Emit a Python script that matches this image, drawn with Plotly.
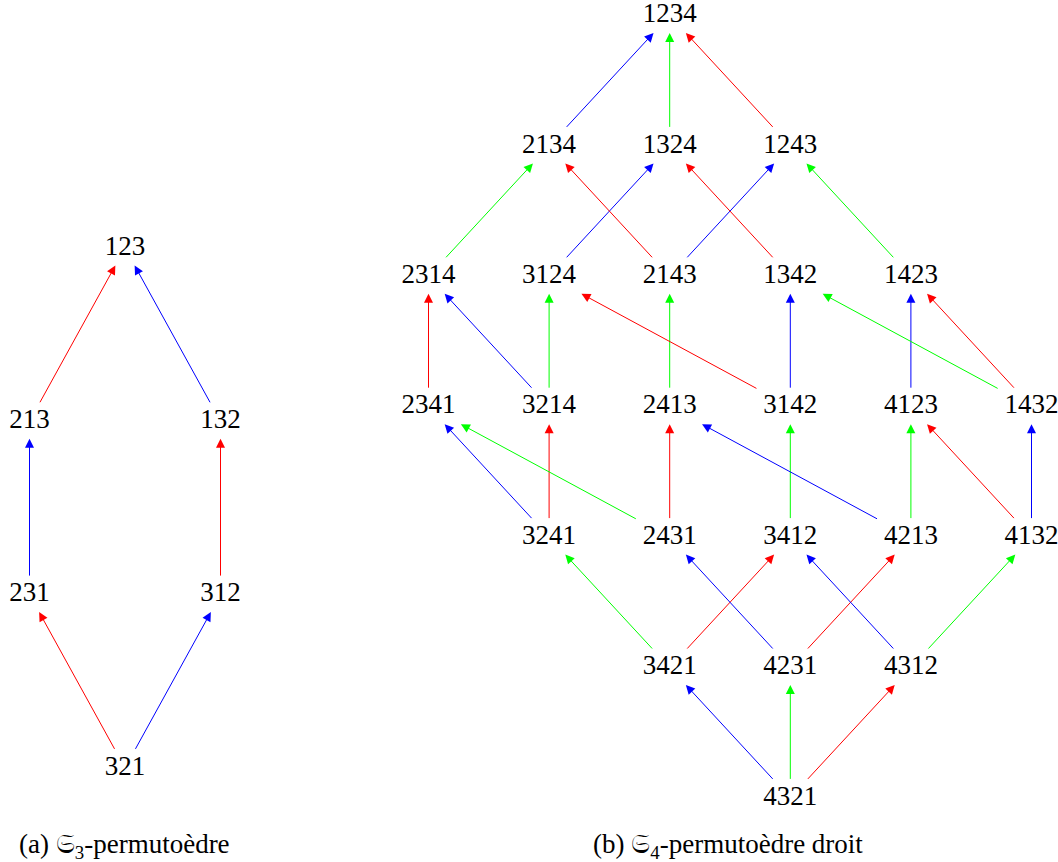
import plotly.graph_objects as go

# S3 permutohedron: labels, rank (row) and column in the drawing grid
s3_labels = ["123", "213", "132", "231", "312", "321"]
s3_rank = [0, 1, 1, 2, 2, 3]
s3_col = [1, 0, 2, 0, 2, 1]
# edges: source -> target, generator index (0 = s1, 1 = s2)
s3_src = ["213", "132", "231", "312", "321", "321"]
s3_dst = ["123", "123", "213", "132", "231", "312"]
s3_gen = [0, 1, 1, 0, 0, 1]
s3_colors = ["red", "blue"]

# S4 right permutohedron
s4_labels = ["1234",
             "2134", "1324", "1243",
             "2314", "3124", "2143", "1342", "1423",
             "2341", "3214", "2413", "3142", "4123", "1432",
             "3241", "2431", "3412", "4213", "4132",
             "3421", "4231", "4312",
             "4321"]
s4_rank = [0, 1, 1, 1, 2, 2, 2, 2, 2, 3, 3, 3, 3, 3, 3, 4, 4, 4, 4, 4, 5, 5, 5, 6]
s4_col = [2, 1, 2, 3, 0, 1, 2, 3, 4, 0, 1, 2, 3, 4, 5, 1, 2, 3, 4, 5, 2, 3, 4, 3]
s4_src = ["2134", "1324", "1243",
          "2314", "3124", "2143", "2143", "1342", "1423",
          "2341", "3214", "3214", "2413", "3142", "3142", "4123", "1432", "1432",
          "3241", "3241", "2431", "2431", "3412", "4213", "4213", "4132", "4132",
          "3421", "3421", "4231", "4231", "4312", "4312",
          "4321", "4321", "4321"]
s4_dst = ["1234", "1234", "1234",
          "2134", "1324", "2134", "1243", "1324", "1243",
          "2314", "2314", "3124", "2143", "3124", "1342", "1423", "1423", "1342",
          "2341", "3214", "2413", "2341", "3142", "2413", "4123", "4123", "1432",
          "3241", "3412", "2431", "4213", "3412", "4132",
          "3421", "4231", "4312"]
s4_gen = [0, 1, 2,
          1, 0, 2, 0, 2, 1,
          2, 0, 1, 1, 2, 0, 0, 2, 1,
          0, 2, 2, 1, 1, 0, 1, 2, 0,
          1, 2, 0, 2, 0, 1,
          0, 1, 2]
s4_colors = ["blue", "#00ff00", "red"]

FONT = "Liberation Serif"
LABEL_SIZE = 27
CAPTION_SIZE = 27
HALF_H = 17.5


def positions(labels, rank, col, x0, dx, y0, dy):
    return {lab: (x0 + c * dx, y0 + r * dy) for lab, r, c in zip(labels, rank, col)}


def clip(p, q, hw, hh):
    """Point where segment p->q leaves the box of half size hw, hh around p."""
    ddx, ddy = q[0] - p[0], q[1] - p[1]
    t = min(hw / abs(ddx) if ddx else 1e9, hh / abs(ddy) if ddy else 1e9)
    return p[0] + t * ddx, p[1] + t * ddy


def half_w(label):
    return len(label) * 6.5 + 8.5


pos3 = positions(s3_labels, s3_rank, s3_col, 29.5, 95.5, 248, 173.3)
pos4 = positions(s4_labels, s4_rank, s4_col, 428.5, 120.6, 15.5, 130.4)

fig = go.Figure()
annotations = []


def add_graph(pos, src, dst, gen, colors):
    for s, d, g in zip(src, dst, gen):
        p, q = pos[s], pos[d]
        tail = clip(p, q, half_w(s), HALF_H)
        tip = clip(q, p, half_w(d), HALF_H)
        annotations.append(dict(
            x=tip[0], y=tip[1], ax=tail[0], ay=tail[1],
            xref="x", yref="y", axref="x", ayref="y",
            text="", showarrow=True, arrowhead=2, arrowsize=1.8,
            arrowwidth=1, arrowcolor=colors[g], standoff=0,
        ))
    labs = list(pos.keys())
    fig.add_trace(go.Scatter(
        x=[pos[l][0] for l in labs], y=[pos[l][1] for l in labs],
        mode="text", text=labs, textposition="middle center",
        textfont=dict(family=FONT, size=LABEL_SIZE, color="black"),
        cliponaxis=False, hoverinfo="skip", showlegend=False,
    ))


add_graph(pos3, s3_src, s3_dst, s3_gen, s3_colors)
add_graph(pos4, s4_src, s4_dst, s4_gen, s4_colors)

annotations.append(dict(
    x=17, y=846, xref="x", yref="y", xanchor="left", yanchor="middle",
    text="(a) \U0001D516<sub>3</sub>-permutoèdre", showarrow=False,
    font=dict(family=FONT, size=CAPTION_SIZE, color="black"),
))
annotations.append(dict(
    x=728, y=846, xref="x", yref="y", xanchor="center", yanchor="middle",
    text="(b) \U0001D516<sub>4</sub>-permutoèdre droit", showarrow=False,
    font=dict(family=FONT, size=CAPTION_SIZE, color="black"),
))

fig.update_layout(
    width=1058, height=862,
    margin=dict(l=0, r=0, t=0, b=0),
    plot_bgcolor="white", paper_bgcolor="white",
    xaxis=dict(range=[0, 1058], visible=False, fixedrange=True),
    yaxis=dict(range=[862, 0], visible=False, fixedrange=True),
    annotations=annotations,
    showlegend=False,
)

# drop the default body margin so the figure sits flush in the window
fig.write_html("out.html", config={"displayModeBar": False},
               post_script="document.body.style.margin = '0';")
